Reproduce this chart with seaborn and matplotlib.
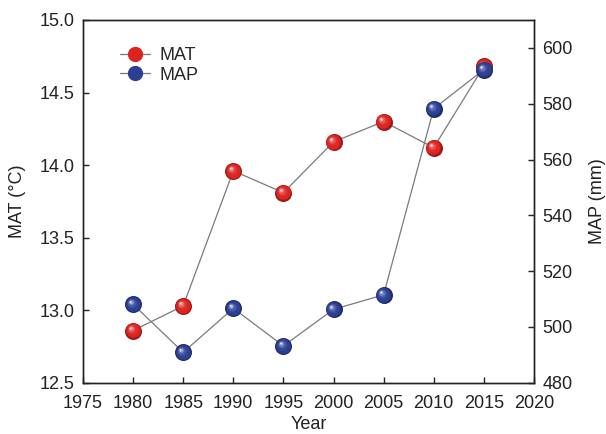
import numpy as np
import pandas as pd
import seaborn as sns
import matplotlib
matplotlib.use("Agg")
import matplotlib.pyplot as plt
from matplotlib.colors import to_rgb
from matplotlib.lines import Line2D
from matplotlib.transforms import offset_copy

# ---------- data ----------
years = [1980, 1985, 1990, 1995, 2000, 2005, 2010, 2015]
mat = [12.86, 13.03, 13.96, 13.81, 14.16, 14.30, 14.12, 14.68]   # °C
map_mm = [508.1, 490.9, 506.7, 493.2, 506.3, 511.5, 578.2, 592.2]  # mm

xticks = list(range(1975, 2021, 5))
mat_ticks = [12.5, 13.0, 13.5, 14.0, 14.5, 15.0]
map_ticks = [480, 500, 520, 540, 560, 580, 600]

RED = "#dc2320"
BLUE = "#2b3f94"
LINE = "#7a7a7a"
TXT = "#222222"

sns.set_style("ticks")
plt.rcParams["font.family"] = ["Liberation Sans", "DejaVu Sans"]
plt.rcParams["font.size"] = 13

df = pd.DataFrame({"year": years, "MAT": mat, "MAP": map_mm})

fig = plt.figure(figsize=(6.06, 4.34), dpi=100)
ax = fig.add_axes([0.137, 0.118, 0.744, 0.836])
ax2 = ax.twinx()


def spheres(a, col, color, z):
    """画带高光的小球：底色圆 + 逐层变亮、向左上偏移的圆。"""
    base = np.array(to_rgb(color))
    dark = base * 0.72
    sns.scatterplot(data=df, x="year", y=col, ax=a, s=150, color=dark,
                    linewidth=0, zorder=z, legend=False)
    n = 12
    for i in range(n):
        f = (i + 1) / n
        c = base + (1 - base) * (f ** 3.5) * 0.98
        size = 128 * (1 - 0.94 * f) ** 2
        tr = offset_copy(a.transData, fig=fig, x=-3.0 * f, y=3.0 * f, units="dots")
        sns.scatterplot(data=df, x="year", y=col, ax=a, s=size, color=c,
                        linewidth=0, zorder=z + 0.01 * (i + 1), legend=False,
                        transform=tr)


sns.lineplot(data=df, x="year", y="MAT", ax=ax, color=LINE, lw=0.9, zorder=2)
spheres(ax, "MAT", RED, 3)
sns.lineplot(data=df, x="year", y="MAP", ax=ax2, color=LINE, lw=0.9, zorder=2)
spheres(ax2, "MAP", BLUE, 3)

ax.set_xlim(1975, 2020)
ax.set_ylim(12.5, 15.0)
ax2.set_ylim(480, 610)
ax.set_xticks(xticks)
ax.set_yticks(mat_ticks)
ax.set_yticklabels([f"{v:.1f}" for v in mat_ticks])
ax2.set_yticks(map_ticks)

ax.set_xlabel("Year", labelpad=3, color=TXT)
ax.set_ylabel("MAT (°C)", labelpad=10, color=TXT)
ax2.set_ylabel("MAP (mm)", labelpad=12, color=TXT)

ax.tick_params(axis="x", direction="in", length=4, width=1, colors=TXT, pad=9)
ax.tick_params(axis="y", direction="in", length=4, width=1, colors=TXT, pad=6,
               right=False)
ax2.tick_params(axis="y", direction="in", length=4, width=1, colors=TXT, pad=6)
for a in (ax, ax2):
    for sp in a.spines.values():
        sp.set_color(TXT)
        sp.set_linewidth(1)
        sp.set_visible(True)

handles = [
    Line2D([], [], color=LINE, lw=0.9, marker="o", markersize=11,
           markerfacecolor=RED, markeredgewidth=0),
    Line2D([], [], color=LINE, lw=0.9, marker="o", markersize=11,
           markerfacecolor=BLUE, markeredgewidth=0),
]
ax2.legend(handles, ["MAT", "MAP"], loc="upper left", frameon=False,
           bbox_to_anchor=(0.045, 0.97), handlelength=1.7, handletextpad=0.5,
           labelspacing=0.15, fontsize=13)

fig.savefig("out.png", dpi=100)
